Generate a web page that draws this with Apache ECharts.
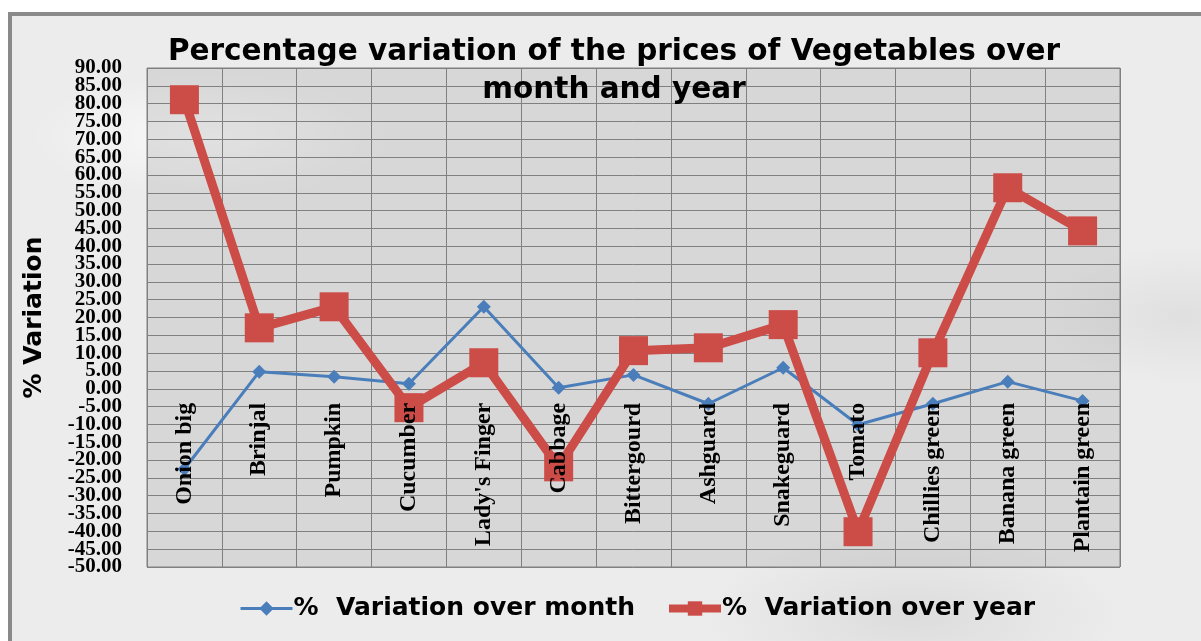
<!DOCTYPE html>
<html>
<head>
<meta charset="utf-8">
<script src="https://cdn.jsdelivr.net/npm/echarts@6/dist/echarts.min.js"></script>
<style>
html, body { margin: 0; padding: 0; background: #fff; }
.frame {
    position: absolute; left: 8px; top: 12px; width: 1200px; height: 640px;
    border-left: 4px solid #8a8a8a; border-top: 4px solid #8a8a8a;
    background:
        radial-gradient(ellipse 260px 90px at 200px 120px, rgba(255,255,255,0.7), rgba(255,255,255,0) 70%),
        radial-gradient(ellipse 300px 120px at 900px 600px, rgba(205,205,205,0.5), rgba(205,205,205,0) 70%),
        radial-gradient(ellipse 200px 100px at 1170px 300px, rgba(205,205,205,0.4), rgba(205,205,205,0) 70%),
        #ececec;
}
#chart { position: absolute; left: 0; top: 0; width: 1201px; height: 641px; }
</style>
</head>
<body>
<div class="frame"></div>
<div id="chart"></div>
<script>
// data
var vegetables = ['Onion big', 'Brinjal', 'Pumpkin', 'Cucumber', "Lady's Finger", 'Cabbage',
    'Bittergourd', 'Ashguard', 'Snakeguard', 'Tomato', 'Chillies green', 'Banana green', 'Plantain green'];
var overMonth = [-22.5, 4.8, 3.4, 1.4, 23.0, 0.3, 3.9, -4.2, 5.9, -10.1, -4.2, 2.0, -3.4];
var overYear = [81.1, 17.1, 23.0, -5.3, 7.3, -21.9, 10.7, 11.5, 18.0, -40.1, 10.1, 56.4, 44.3];
var yTicks = { min: -50, max: 90, step: 5 };

var blue = '#4a7ebb';
var red = '#cc4c48';
var gridBottom = 74;

var chart = echarts.init(document.getElementById('chart'));

// labels are packed tighter than their height, so every other one goes on a twin axis
function yLabelAxis(even, extra) {
    var ax = {
        type: 'value',
        position: 'left',
        min: yTicks.min,
        max: yTicks.max,
        interval: yTicks.step,
        axisLine: { show: false },
        axisTick: { show: false },
        splitLine: { show: false },
        axisLabel: {
            margin: 25,
            showMinLabel: true,
            showMaxLabel: true,
            fontFamily: 'Liberation Serif',
            fontWeight: 'bold',
            fontSize: 21,
            color: '#000',
            formatter: function (v) {
                var k = Math.round((v - yTicks.min) / yTicks.step);
                return (k % 2 === 0) === even ? v.toFixed(2) : '';
            }
        }
    };
    return Object.assign(ax, extra || {});
}

var option = {
    backgroundColor: 'transparent',
    title: {
        text: 'Percentage variation of the prices of Vegetables over\nmonth and year',
        left: 609,
        top: 28,
        textAlign: 'center',
        textStyle: {
            fontFamily: 'DejaVu Sans',
            fontWeight: 'bold',
            fontSize: 29.5,
            lineHeight: 38,
            color: '#000'
        }
    },
    legend: {
        left: 234,
        top: 591,
        itemWidth: 52,
        itemHeight: 18,
        itemGap: 30,
        data: [
            { name: '%  Variation over month', lineStyle: { width: 3 } },
            { name: '%  Variation over year', lineStyle: { width: 8 } }
        ],
        textStyle: {
            fontFamily: 'DejaVu Sans',
            fontWeight: 'bold',
            fontSize: 25,
            color: '#000',
            padding: [0, 0, 0, -4]
        }
    },
    grid: {
        left: 147,
        right: 81,
        top: 68,
        bottom: gridBottom,
        outerBoundsMode: 'none',
        containLabel: false,
        show: true,
        borderColor: '#808080',
        borderWidth: 1,
        backgroundColor: 'rgba(140,140,140,0.22)'
    },
    xAxis: [
        {
            // grid lines only
            type: 'category',
            data: vegetables,
            position: 'bottom',
            boundaryGap: true,
            axisLine: { show: false, onZero: false },
            axisTick: { show: false },
            axisLabel: { show: false },
            splitLine: { show: true, interval: 0, lineStyle: { color: '#808080', width: 1 } }
        },
        {
            // category names, drawn over the lines, moved up to the zero line below
            type: 'category',
            data: vegetables,
            position: 'bottom',
            z: 10,
            axisLine: { show: false, onZero: false },
            axisTick: { show: false },
            splitLine: { show: false },
            axisLabel: {
                interval: 0,
                rotate: 90,
                margin: 14,
                fontFamily: 'Liberation Serif',
                fontWeight: 'bold',
                fontSize: 24,
                color: '#000'
            }
        }
    ],
    yAxis: [
        yLabelAxis(true, {
            name: '% Variation',
            nameLocation: 'middle',
            nameGap: 100,
            nameRotate: 90,
            nameTextStyle: {
                fontFamily: 'DejaVu Sans',
                fontWeight: 'bold',
                fontSize: 25,
                color: '#000'
            },
            splitLine: { show: true, lineStyle: { color: '#808080', width: 1 } }
        }),
        yLabelAxis(false)
    ],
    series: [
        {
            name: '%  Variation over month',
            type: 'line',
            data: overMonth,
            symbol: 'diamond',
            symbolSize: 14,
            lineStyle: { color: blue, width: 3 },
            itemStyle: { color: blue },
            z: 2
        },
        {
            name: '%  Variation over year',
            type: 'line',
            data: overYear,
            symbol: 'rect',
            symbolSize: 29,
            lineStyle: { color: red, width: 9 },
            itemStyle: { color: red },
            z: 3
        }
    ],
    animation: false
};

chart.setOption(option);

// put the category names on the zero line, as the original does
var zeroY = chart.convertToPixel({ yAxisIndex: 0 }, 0);
var bottomY = chart.getHeight() - gridBottom;
chart.setOption({ xAxis: [{}, { offset: zeroY - bottomY }] });
</script>
</body>
</html>
